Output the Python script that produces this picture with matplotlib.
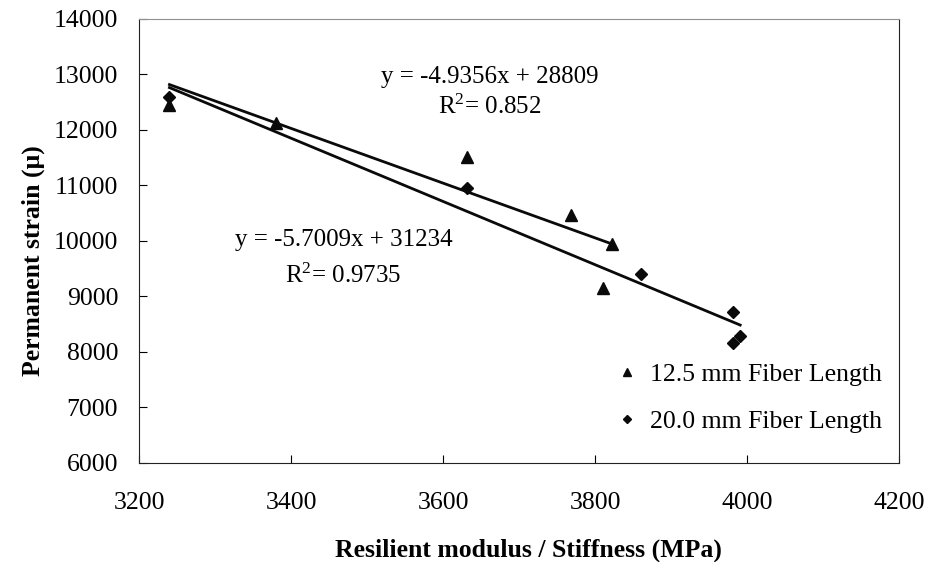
import numpy as np
import matplotlib.pyplot as plt

plt.rcParams['font.family'] = ['Liberation Serif', 'DejaVu Serif']
plt.rcParams['mathtext.fontset'] = 'custom'
plt.rcParams['mathtext.rm'] = 'Liberation Serif'
plt.rcParams['mathtext.it'] = 'Liberation Serif:italic'

# datos
x_125 = [3240, 3380, 3632, 3768, 3822, 3810]
y_125 = [12450, 12130, 11520, 10458, 9942, 9148]
x_200 = [3240, 3632, 3861, 3982, 3991, 3982]
y_200 = [12600, 10960, 9406, 8726, 8287, 8155]

# rectas de tendencia (de las etiquetas)
pend_125, orig_125, r2_125 = -4.9356, 28809, 0.852
pend_200, orig_200, r2_200 = -5.7009, 31234, 0.9735

fig = plt.figure(figsize=(9.3, 5.62), dpi=100)
ax = fig.add_axes([0.1495, 0.1767, 0.8172, 0.7895])

color = '#0a0a0a'

# puntos
ax.plot(x_125, y_125, linestyle='none', marker='^', ms=8, color=color, zorder=3)
ax.plot(x_200, y_200, linestyle='none', marker='D', ms=6, color=color, zorder=3)

# tendencias
xs = np.array([min(x_125), max(x_125)])
ax.plot(xs, pend_125 * xs + orig_125, color=color, lw=2)
xs = np.array([min(x_200), max(x_200)])
ax.plot(xs, pend_200 * xs + orig_200, color=color, lw=2)

# etiquetas de las ecuaciones
ax.text(3661, 12962, f'y = {pend_125}x + {orig_125}', fontsize=18, ha='center', va='center')
ax.text(3661, 12420, f'R$^2$= {r2_125}', fontsize=18, ha='center', va='center')
ax.text(3469, 10020, f'y = {pend_200}x + {orig_200}', fontsize=18, ha='center', va='center')
ax.text(3469, 9370, f'R$^2$= {r2_200}', fontsize=18, ha='center', va='center')

# leyenda
h1, = ax.plot([], [], linestyle='none', marker='^', ms=6, color=color)
h2, = ax.plot([], [], linestyle='none', marker='D', ms=4.5, color=color)
ax.legend([h1, h2], ['12.5 mm Fiber Length', '20.0 mm Fiber Length'],
          loc='center left', bbox_to_anchor=(0.598, 0.146), frameon=False,
          fontsize=18.5, labelspacing=0.95, handlelength=0.8, handletextpad=0.5)

ax.set_xlim(3200, 4200)
ax.set_ylim(6000, 14000)
ax.set_xticks(np.arange(3200, 4201, 200))
ax.set_yticks(np.arange(6000, 14001, 1000))
ax.tick_params(direction='in', length=6, labelsize=18.5)
ax.tick_params(axis='y', pad=15)
ax.tick_params(axis='x', pad=21)

ax.spines['top'].set_color('#909090')
for s in ['left', 'bottom', 'right']:
    ax.spines[s].set_color('#222222')

ax.set_xlabel('Resilient modulus / Stiffness (MPa)', fontsize=18.5, fontweight='bold')
ax.set_ylabel('Permanent strain (μ)', fontsize=18.5, fontweight='bold')
ax.xaxis.set_label_coords(0.512, -0.172)
ax.yaxis.set_label_coords(-0.124, 0.455)

fig.savefig('out.png', dpi=100)
